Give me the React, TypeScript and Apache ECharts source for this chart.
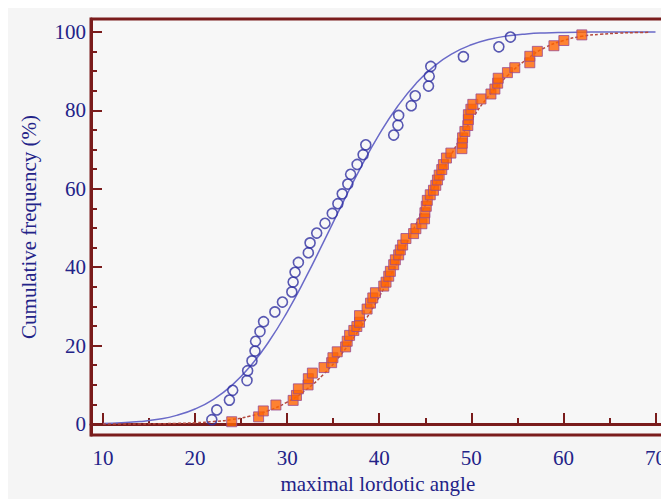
import React, { useEffect, useRef } from "react";
import * as echarts from "echarts";

// Observed data: open circles (blue group)
const circleX = [21.82, 22.36, 23.73, 24.09, 25.64, 25.71, 26.18, 26.51, 26.57, 27.05,
  27.44, 28.67, 29.49, 30.51, 30.65, 30.86, 31.22, 32.30, 32.49, 33.21,
  34.11, 34.90, 35.51, 35.98, 36.59, 36.89, 37.60, 38.25, 38.54, 41.57,
  42.03, 42.11, 43.48, 43.91, 45.35, 45.43, 45.60, 49.14, 52.99, 54.25];
const circleY = [1.1, 3.6, 6.1, 8.6, 11.1, 13.6, 16.1, 18.6, 21.1, 23.6,
  26.1, 28.6, 31.1, 33.7, 36.2, 38.7, 41.2, 43.7, 46.2, 48.7,
  51.2, 53.7, 56.2, 58.7, 61.2, 63.7, 66.2, 68.7, 71.2, 73.7,
  76.2, 78.7, 81.2, 83.7, 86.2, 88.7, 91.2, 93.7, 96.2, 98.7];

// Observed data: filled squares (orange group)
const squareX = [23.98, 26.90, 27.41, 28.78, 30.65, 31.01, 31.22, 32.27, 32.30, 32.74,
  34.00, 34.83, 34.97, 35.44, 36.35, 36.52, 36.78, 37.24, 37.57, 37.86,
  37.86, 38.68, 39.05, 39.30, 39.59, 40.49, 40.74, 41.03, 41.21, 41.57,
  41.75, 42.11, 42.29, 42.54, 42.90, 43.73, 43.98, 44.63, 44.92, 44.96,
  45.11, 45.22, 45.54, 45.89, 46.14, 46.32, 46.51, 46.79, 46.97, 47.30,
  47.78, 48.98, 49.01, 49.05, 49.30, 49.62, 49.68, 49.68, 49.95, 50.16,
  51.05, 52.13, 52.56, 52.86, 52.92, 53.92, 54.72, 56.35, 56.35, 57.17,
  58.97, 60.05, 62.00];
const squareY = [0.58, 1.83, 3.34, 4.85, 6.03, 7.29, 8.97, 9.97, 11.56, 12.99,
  14.40, 15.65, 16.91, 18.42, 19.67, 21.11, 22.61, 23.87, 24.87, 25.95,
  27.64, 29.32, 30.83, 32.16, 33.49, 35.18, 36.18, 37.69, 38.94, 40.63,
  41.88, 43.14, 44.40, 45.65, 47.31, 48.57, 49.82, 51.08, 52.34, 53.89,
  55.53, 57.04, 58.47, 59.62, 60.88, 62.24, 63.49, 64.90, 66.16, 67.84,
  69.10, 70.23, 71.61, 72.99, 74.62, 76.13, 77.64, 78.89, 80.28, 81.53,
  82.91, 84.17, 85.43, 86.93, 88.19, 89.62, 90.88, 92.14, 93.79, 95.05,
  96.48, 97.81, 99.25];

const curveX = [10, 12, 14, 16, 18, 20, 22, 24, 26, 28, 30, 32, 34, 36, 38, 40,
  42, 44, 46, 48, 50, 52, 54, 56, 58, 60, 62, 64, 66, 68, 70];
const blueCurveY = [0.15, 0.31, 0.63, 1.21, 2.21, 3.83, 6.3, 9.87, 14.73, 20.98,
  28.57, 37.26, 46.65, 56.22, 65.46, 73.85, 81.05, 86.87, 91.33, 94.54,
  96.73, 98.14, 99.0, 99.49, 99.75, 99.88, 99.95, 99.98, 99.99, 100, 100];
const orangeCurveX = [10, 12, 14, 16, 18, 20, 22, 24, 26, 28, 30, 32, 34, 36, 38, 40,
  42, 44, 46, 48, 50, 52, 54, 56, 58, 60, 62, 64, 66, 68, 69.4];
const orangeCurveY = [0.01, 0.02, 0.03, 0.07, 0.16, 0.32, 0.62, 1.15, 2.04, 3.45,
  5.58, 8.63, 12.8, 18.17, 24.77, 32.47, 41.5, 51.0, 60.5, 69.5,
  77.5, 84.0, 89.0, 93.0, 96.0, 97.8, 98.9, 99.4, 99.7, 99.85, 99.9];

const xMajor = [10, 20, 30, 40, 50, 60, 70];
const xMinor = [15, 25, 35, 45, 55, 65];
const yMajor = [0, 20, 40, 60, 80, 100];
const yMinor = [5, 10, 15, 25, 30, 35, 45, 50, 55, 65, 70, 75, 85, 90, 95];

const xMin = 8.7;
const xMax = 71;
const yMin = -2.8;
const yMax = 103.3;

const FRAME = "#7a1c1c";
const NAVY = "#232388";
const FONT = "'Liberation Serif', 'DejaVu Serif', serif";

export default function App() {
  const ref = useRef<HTMLDivElement>(null);
  useEffect(() => {
    if (!ref.current) return;
    const chart = echarts.init(ref.current, undefined, { renderer: "svg" });
    const zip = (xs: number[], ys: number[]) => xs.map((x, i) => [x, ys[i]]);
    const baseX = {
      type: "value" as const,
      min: xMin,
      max: xMax,
      position: "bottom" as const,
      splitLine: { show: false },
    };
    const baseY = {
      type: "value" as const,
      min: yMin,
      max: yMax,
      position: "left" as const,
      splitLine: { show: false },
    };
    chart.setOption({
      animation: false,
      backgroundColor: "#f5f5f5",
      grid: {
        left: 83,
        right: 2,
        top: 11,
        bottom: 58,
        show: true,
        borderColor: FRAME,
        borderWidth: 3,
        backgroundColor: "#f7f7f7",
      },
      xAxis: [
        {
          ...baseX,
          name: "maximal lordotic angle",
          nameLocation: "middle",
          nameGap: 38,
          nameTextStyle: { color: NAVY, fontFamily: FONT, fontSize: 21 },
          axisLine: { show: true, lineStyle: { color: FRAME, width: 3 } },
          axisTick: {
            show: true,
            inside: true,
            length: 11,
            customValues: xMajor,
            lineStyle: { color: FRAME, width: 2 },
          },
          axisLabel: {
            customValues: xMajor,
            color: NAVY,
            fontFamily: FONT,
            fontSize: 21,
            margin: 12,
          },
        },
        {
          ...baseX,
          axisLine: { show: false },
          axisLabel: { show: false },
          axisTick: {
            show: true,
            inside: true,
            length: 6,
            customValues: xMinor,
            lineStyle: { color: FRAME, width: 2 },
          },
        },
      ],
      yAxis: [
        {
          ...baseY,
          name: "Cumulative frequency (%)",
          nameLocation: "middle",
          nameRotate: 90,
          nameGap: 52,
          nameTextStyle: { color: NAVY, fontFamily: FONT, fontSize: 21 },
          axisLine: { show: true, lineStyle: { color: FRAME, width: 3 } },
          axisTick: {
            show: true,
            inside: true,
            length: 11,
            customValues: yMajor,
            lineStyle: { color: FRAME, width: 2 },
          },
          axisLabel: {
            customValues: yMajor,
            color: NAVY,
            fontFamily: FONT,
            fontSize: 21,
            margin: 5,
          },
        },
        {
          ...baseY,
          axisLine: { show: false },
          axisLabel: { show: false },
          axisTick: {
            show: true,
            inside: true,
            length: 6,
            customValues: yMinor,
            lineStyle: { color: FRAME, width: 2 },
          },
        },
      ],
      series: [
        {
          type: "line",
          data: zip(curveX, blueCurveY),
          smooth: true,
          showSymbol: false,
          lineStyle: { color: "#6a6ac8", width: 1.5 },
          z: 1,
        },
        {
          type: "line",
          data: zip(orangeCurveX, orangeCurveY),
          smooth: true,
          showSymbol: false,
          lineStyle: { color: "#b4483c", width: 1.5, type: [3, 2] },
          z: 1,
        },
        {
          type: "scatter",
          data: zip(circleX, circleY),
          symbol: "circle",
          symbolSize: 10,
          itemStyle: { color: "rgba(0,0,0,0)", borderColor: "#2f2fa0", borderWidth: 1.6 },
          z: 2,
        },
        {
          type: "scatter",
          data: zip(squareX, squareY),
          symbol: "rect",
          symbolSize: 10,
          itemStyle: { color: "#ff6400", borderColor: "#9a4a90", borderWidth: 1 },
          z: 3,
        },
      ],
    });
    return () => chart.dispose();
  }, []);
  return <div ref={ref} style={{ width: 661, height: 491 }} />;
}
